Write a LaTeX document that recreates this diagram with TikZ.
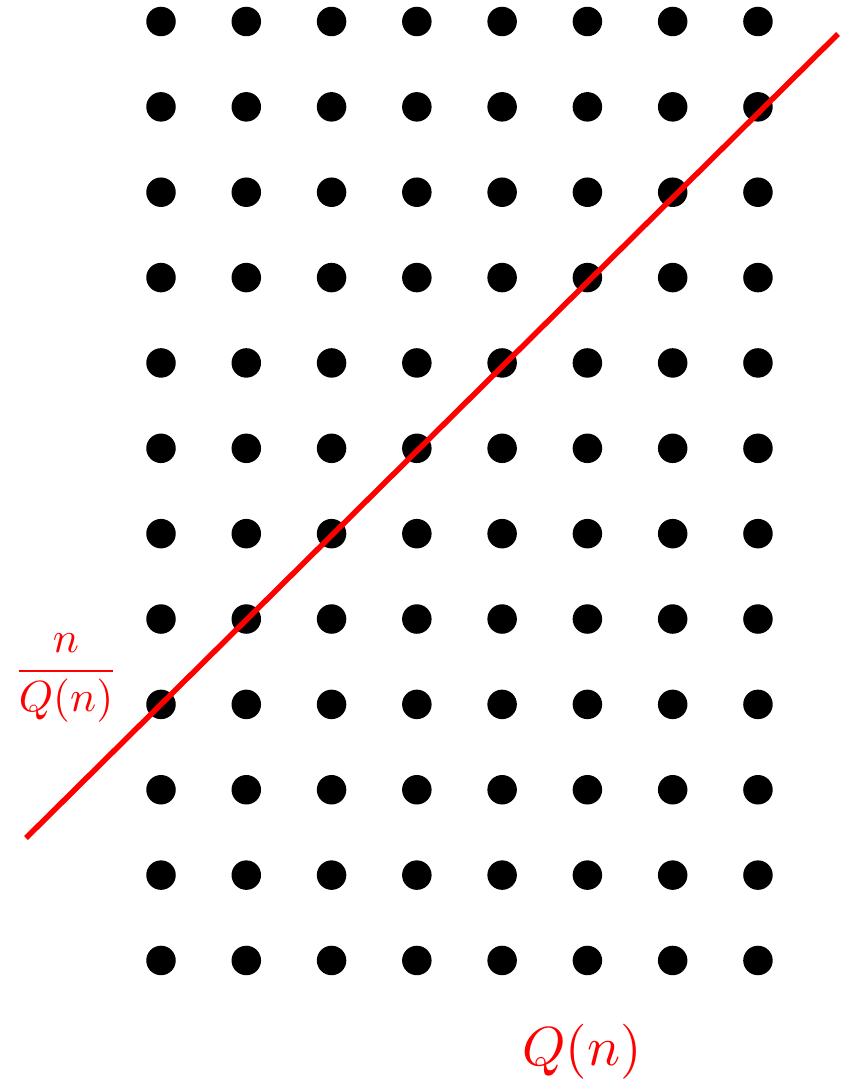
\documentclass[tikz,border=0pt]{standalone}
\usepackage{amsmath}
\usepackage{graphicx}
\begin{document}
\begin{tikzpicture}[x=1pt,y=-1pt,
  dot/.style={circle,fill=black,inner sep=0pt,minimum size=29.5pt},
  redline/.style={red,line width=5.5pt},
  lab/.style={red,inner sep=0pt}]
\useasboundingbox (0,0) rectangle (850,1081);
\foreach \i in {0,...,7}{
  \foreach \j in {0,...,11}{
    \node[dot] (d\i-\j) at ({161+85.28*\i},{21.5+85.36*\j}) {};
  }
}
\coordinate (lA) at (26,838);
\coordinate (lB) at (838,34);
\draw[redline] (lA) -- (lB);
\node[lab] (frac) at (66,678) {\scalebox{4.35}{$\dfrac{n}{Q(n)}$}};
\node[lab] (qn) at (582,1052) {\scalebox{5.5}{$Q(n)$}};
\end{tikzpicture}
\end{document}
